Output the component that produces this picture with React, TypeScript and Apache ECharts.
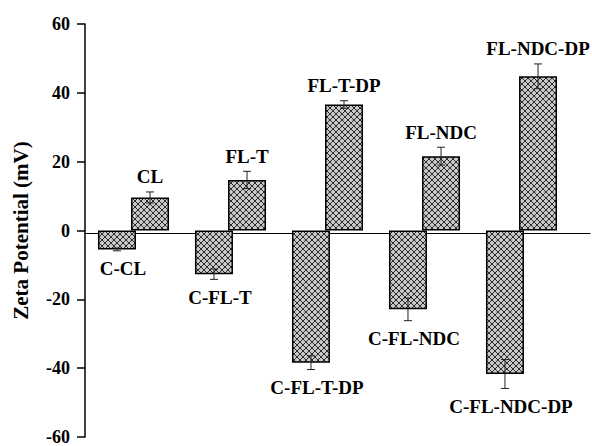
import React, { useEffect, useRef } from "react";
import * as echarts from "echarts";

const groups = ["G1", "G2", "G3", "G4", "G5"];
const negLabels = ["C-CL", "C-FL-T", "C-FL-T-DP", "C-FL-NDC", "C-FL-NDC-DP"];
const negValues = [-5.5, -12.7, -38.4, -22.9, -41.7];
const negErrors = [0.4, 1.5, 2.0, 3.3, 4.2];
const posLabels = ["CL", "FL-T", "FL-T-DP", "FL-NDC", "FL-NDC-DP"];
const posValues = [9.6, 14.7, 36.6, 21.6, 44.8];
const posErrors = [1.6, 2.5, 1.1, 2.6, 3.6];
const yTicks = { min: -60, max: 60, interval: 20 };

const FONT = "'Liberation Serif', 'Times New Roman', serif";
const BAR_W = 38;
const BAR_GAP = -0.13;

function makePattern() {
  const c = document.createElement("canvas");
  const s = 6;
  c.width = s;
  c.height = s;
  const ctx = c.getContext("2d")!;
  ctx.fillStyle = "#c8c8c8";
  ctx.fillRect(0, 0, s, s);
  ctx.strokeStyle = "#2a2a2a";
  ctx.lineWidth = 1;
  ctx.beginPath();
  ctx.moveTo(-1, -1);
  ctx.lineTo(s + 1, s + 1);
  ctx.moveTo(-1, s + 1);
  ctx.lineTo(s + 1, -1);
  ctx.stroke();
  return c;
}

export default function App() {
  const ref = useRef<HTMLDivElement>(null);
  useEffect(() => {
    if (!ref.current) return;
    const chart = echarts.init(ref.current, undefined, { renderer: "svg" });
    const pattern = makePattern();
    const off = (BAR_W + BAR_W * BAR_GAP) / 2;

    const errSeries = (values: number[], errs: number[], labels: string[], neg: boolean) => ({
      type: "custom",
      xAxisIndex: 0,
      yAxisIndex: 0,
      clip: false,
      z: 5,
      data: values.map((v, i) => [i, v, errs[i]]),
      encode: { x: 0, y: 1 },
      renderItem: (params: any, api: any) => {
        const i = api.value(0);
        const v = api.value(1);
        const e = api.value(2);
        const base = api.coord([i, v]);
        const x = base[0] + (neg ? -off : off);
        const yTop = api.coord([i, v + e])[1];
        const yBot = api.coord([i, v - e])[1];
        const cap = 4;
        const st = { stroke: "#222", lineWidth: 1 };
        const label = labels[params.dataIndex];
        return {
          type: "group",
          children: [
            { type: "line", shape: { x1: x, y1: yTop, x2: x, y2: yBot }, style: st },
            { type: "line", shape: { x1: x - cap, y1: yTop, x2: x + cap, y2: yTop }, style: st },
            { type: "line", shape: { x1: x - cap, y1: yBot, x2: x + cap, y2: yBot }, style: st },
            {
              type: "text",
              x: neg ? x + 6 : x,
              y: neg ? yBot + 18 : yTop - 15,
              style: {
                text: label,
                fontSize: 19,
                fontWeight: "bold",
                fontFamily: FONT,
                fill: "#000",
                align: "center",
                verticalAlign: "middle",
              },
            },
          ],
        };
      },
    });

    const barStyle = {
      color: { image: pattern, repeat: "repeat" },
      borderColor: "#000",
      borderWidth: 1.5,
    };

    chart.setOption({
      animation: false,
      backgroundColor: "#fff",
      textStyle: { fontFamily: FONT },
      grid: [
        { left: 85, width: 485, top: 24, bottom: 3, containLabel: false },
        { left: 85, right: 2, top: 24, bottom: 3, containLabel: false },
      ],
      xAxis: [
        {
          type: "category",
          gridIndex: 0,
          data: groups,
          axisLine: { show: false },
          axisTick: { show: false },
          axisLabel: { show: false },
        },
        {
          type: "value",
          gridIndex: 1,
          min: 0,
          max: 1,
          axisLine: { show: true, onZero: true, lineStyle: { color: "#000", width: 1.2 } },
          axisTick: { show: false },
          axisLabel: { show: false },
          splitLine: { show: false },
        },
      ],
      yAxis: [
        {
          type: "value",
          gridIndex: 0,
          min: yTicks.min,
          max: yTicks.max,
          interval: yTicks.interval,
          name: "Zeta Potential (mV)",
          nameLocation: "middle",
          nameRotate: 90,
          nameGap: 54,
          nameTextStyle: {
            fontSize: 21,
            fontWeight: "bold",
            fontFamily: FONT,
            color: "#000",
          },
          axisLine: { show: true, lineStyle: { color: "#000", width: 1.5 } },
          axisTick: { show: true, inside: false, length: 8, lineStyle: { color: "#000", width: 1.5 } },
          axisLabel: {
            show: true,
            margin: 15,
            fontSize: 18,
            fontWeight: "bold",
            fontFamily: FONT,
            color: "#000",
          },
          splitLine: { show: false },
        },
        {
          type: "value",
          gridIndex: 1,
          min: yTicks.min,
          max: yTicks.max,
          show: false,
        },
      ],
      series: [
        {
          type: "bar",
          xAxisIndex: 0,
          yAxisIndex: 0,
          data: negValues,
          barWidth: BAR_W,
          barGap: `${BAR_GAP * 100}%`,
          itemStyle: barStyle,
          z: 3,
        },
        {
          type: "bar",
          xAxisIndex: 0,
          yAxisIndex: 0,
          data: posValues,
          barWidth: BAR_W,
          barGap: `${BAR_GAP * 100}%`,
          itemStyle: barStyle,
          z: 3,
        },
        errSeries(negValues, negErrors, negLabels, true),
        errSeries(posValues, posErrors, posLabels, false),
      ],
    });
    return () => chart.dispose();
  }, []);
  return (
    <div
      ref={ref}
      style={{ position: "absolute", left: 0, top: 0, width: 592, height: 446, background: "#fff" }}
    />
  );
}
